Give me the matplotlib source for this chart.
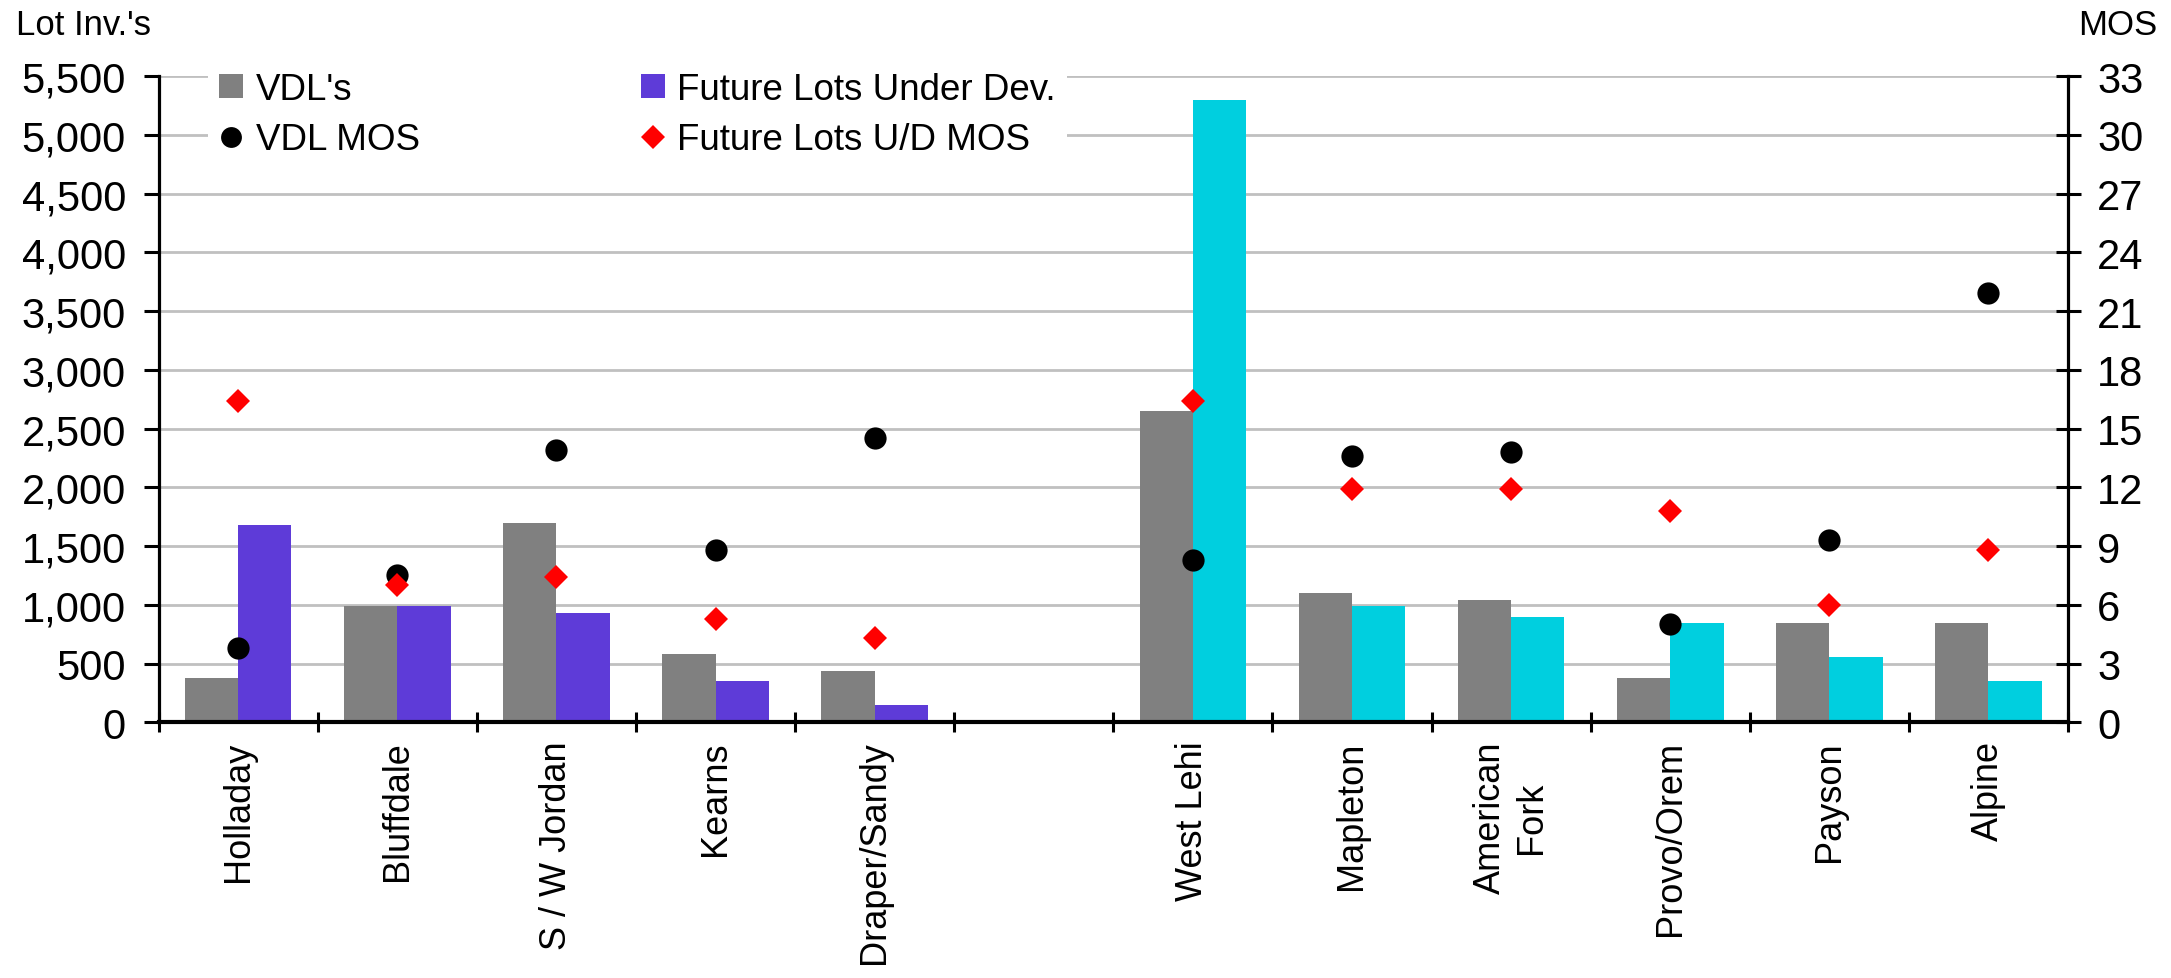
import matplotlib
matplotlib.use("Agg")
import matplotlib.pyplot as plt
import numpy as np
from matplotlib.patches import Patch
from matplotlib.lines import Line2D

plt.rcParams['font.family'] = ['Liberation Sans', 'DejaVu Sans']

# Submarkets (blank slot separates the two county groups)
categories = ["Holladay", "Bluffdale", "S / W Jordan", "Kearns", "Draper/Sandy", "",
              "West Lehi", "Mapleton", "American\nFork", "Provo/Orem", "Payson", "Alpine"]

# Lot inventories (left axis)
vdl_lots = [375, 990, 1700, 580, 435, np.nan, 2650, 1100, 1040, 380, 845, 845]
future_lots = [1680, 990, 930, 350, 150, np.nan, 5300, 990, 895, 845, 555, 350]

# Months of supply (right axis)
vdl_mos = [3.8, 7.5, 13.9, 8.8, 14.5, np.nan, 8.3, 13.6, 13.8, 5.0, 9.3, 21.9]
future_mos = [16.4, 7.0, 7.4, 5.3, 4.3, np.nan, 16.4, 11.9, 11.9, 10.8, 6.0, 8.8]

left_ticks = list(range(0, 5501, 500))
right_ticks = list(range(0, 34, 3))

GRAY = "#808080"
PURPLE = "#5E3BD8"
CYAN = "#00CFDF"

W, H = 2171, 979
fig = plt.figure(figsize=(W / 100, H / 100), dpi=100)
ax = fig.add_axes([158.6 / W, 1 - 723.3 / H, (2068 - 158.6) / W, (723.3 - 77.0) / H])
ax2 = ax.twinx()

x = np.arange(len(categories))
bw = 0.335
future_colors = [PURPLE if i < 5 else CYAN for i in range(len(categories))]
ax.bar(x - bw / 2, vdl_lots, width=bw, color=GRAY, zorder=2)
ax.bar(x + bw / 2, future_lots, width=bw, color=future_colors, zorder=2)

ax2.plot(x, vdl_mos, linestyle="none", marker="o", markersize=16,
         markerfacecolor="black", markeredgewidth=0, zorder=3)
ax2.plot(x, future_mos, linestyle="none", marker="D", markersize=12.5,
         markerfacecolor="#FF0000", markeredgewidth=0, zorder=3)

ax.set_xlim(-0.5, len(categories) - 0.5)
ax.set_ylim(0, 5500)
ax2.set_ylim(0, 33)

ax.set_yticks(left_ticks)
ax.set_yticklabels([f"{v:,}" for v in left_ticks], fontsize=30)
ax2.set_yticks(right_ticks)
ax2.set_yticklabels([str(v) for v in right_ticks], fontsize=30)

ax.set_xticks(np.arange(len(categories) + 1) - 0.5)
ax.set_xticklabels([])
ax.set_xticks(x, minor=True)
ax.set_xticklabels(categories, minor=True, rotation=90, fontsize=26,
                   ha="center", va="top", multialignment="center")
ax.tick_params(axis="x", which="major", direction="inout", length=14, width=2.2)
ax.tick_params(axis="x", which="minor", length=0, pad=13)
ax.tick_params(axis="y", direction="out", length=10.5, width=2.2, pad=13)
ax2.tick_params(axis="y", direction="inout", length=18, width=2.2, pad=12)

ax.yaxis.grid(True, color="#C0C0C0", linewidth=2.0, zorder=0)
ax.set_axisbelow(True)

for s in ["top", "right"]:
    ax.spines[s].set_visible(False)
for s in ["top", "left", "bottom"]:
    ax2.spines[s].set_visible(False)
ax.spines["left"].set_linewidth(2.3)
ax.spines["bottom"].set_linewidth(3.0)
ax.spines["bottom"].set_zorder(4)
ax2.spines["right"].set_linewidth(2.3)

fig.text(15.6 / W, 1 - 35 / H, "Lot Inv.'s", fontsize=25, va="baseline", ha="left")
fig.text(2078 / W, 1 - 35 / H, "MOS", fontsize=25, va="baseline", ha="left")

handles = [
    Patch(facecolor=GRAY, edgecolor="none"),
    Line2D([], [], linestyle="none", marker="o", markersize=15, markerfacecolor="black",
           markeredgewidth=0),
    Patch(facecolor=PURPLE, edgecolor="none"),
    Line2D([], [], linestyle="none", marker="D", markersize=12.5, markerfacecolor="#FF0000",
           markeredgewidth=0),
]
labels = ["VDL's", "VDL MOS", "Future Lots Under Dev.", "Future Lots U/D MOS"]
leg = ax2.legend(handles, labels, ncol=2, loc="upper left",
                 bbox_to_anchor=(208 / W, 1 - 62 / H), bbox_transform=fig.transFigure,
                 fontsize=26.5, handlelength=0.65, handleheight=0.65, handletextpad=0.35,
                 columnspacing=6.0, labelspacing=0.42, borderpad=0.3, borderaxespad=0,
                 frameon=True, fancybox=False)
leg.get_frame().set_facecolor("white")
leg.get_frame().set_edgecolor("none")
leg.get_frame().set_alpha(1)

fig.savefig("out.png", dpi=100)
